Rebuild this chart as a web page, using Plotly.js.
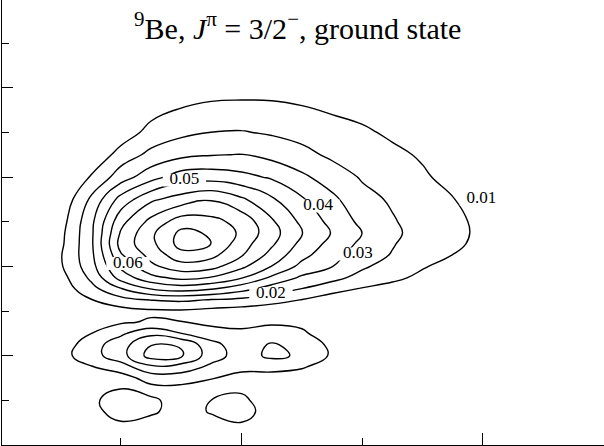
<!DOCTYPE html>
<html>
<head>
<meta charset="utf-8">
<script src="https://cdn.plot.ly/plotly-3.0.1.min.js"></script>
<style>
  html, body { margin: 0; padding: 0; background: #fff; overflow: hidden; }
  #chart { width: 604px; height: 446px; }
</style>
</head>
<body>
<div id="chart"></div>
<script>
// grid of the density map
const xGrid = [0.25, 0.5, 0.75, 1.0, 1.25, 1.5, 1.75, 2.0, 2.25, 2.5, 2.75, 3.0, 3.25, 3.5, 3.75, 4.0, 4.25];
const yGrid = [0.125, 0.25, 0.375, 0.5, 0.625, 0.75, 0.875, 1.0, 1.125, 1.25, 1.375, 1.5, 1.625,
               1.75, 1.875, 2.0, 2.125, 2.25, 2.375, 2.5, 2.75, 3.0, 3.25, 3.5, 3.75, 4.0, 4.25];

// one row per yGrid value, one column per xGrid value
const density = [
  [0, 0, 0, 0.004, 0.002, 0.001, 0.002, 0.005, 0.001, 0, 0, 0, 0, 0, 0, 0, 0],
  [0, 0, 0.003, 0.0095, 0.007, 0.004, 0.0075, 0.0099, 0.003, 0.001, 0, 0, 0, 0, 0, 0, 0],
  [0, 0.002, 0.0075, 0.0133, 0.0115, 0.006, 0.0108, 0.013, 0.0065, 0.002, 0, 0, 0, 0, 0, 0, 0],
  [0, 0.003, 0.0085, 0.0135, 0.0118, 0.006, 0.0101, 0.0115, 0.006, 0.003, 0.001, 0, 0, 0, 0, 0, 0],
  [0, 0.002, 0.007, 0.0103, 0.0065, 0.0065, 0.006, 0.009, 0.005, 0.004, 0.002, 0, 0, 0, 0, 0, 0],
  [0, 0.002, 0.006, 0.0055, 0.0144, 0.015, 0.0105, 0.0067, 0.006, 0.006, 0.004, 0.001, 0, 0, 0, 0, 0],
  [0, 0.004, 0.0093, 0.0155, 0.0278, 0.0256, 0.0178, 0.0128, 0.0134, 0.0108, 0.006, 0.002, 0, 0, 0, 0, 0],
  [0, 0.0062, 0.016, 0.026, 0.0443, 0.0414, 0.0244, 0.0155, 0.0222, 0.0185, 0.0085, 0.003, 0, 0, 0, 0, 0],
  [0, 0.004, 0.0155, 0.0258, 0.0395, 0.039, 0.0227, 0.015, 0.021, 0.0168, 0.0075, 0.003, 0, 0, 0, 0, 0],
  [0, 0.002, 0.0098, 0.0182, 0.0274, 0.0201, 0.015, 0.0118, 0.0142, 0.0114, 0.005, 0.002, 0, 0, 0, 0, 0],
  [0, 0.001, 0.006, 0.0088, 0.0111, 0.0102, 0.0072, 0.0075, 0.0086, 0.008, 0.004, 0.001, 0, 0, 0, 0, 0],
  [0, 0.001, 0.004, 0.0062, 0.0084, 0.0087, 0.007, 0.0054, 0.0031, 0.004, 0.003, 0.002, 0.001, 0, 0, 0, 0],
  [0, 0.003, 0.0095, 0.0166, 0.0203, 0.0218, 0.0194, 0.0177, 0.0143, 0.0097, 0.0042, 0.004, 0.004, 0.002, 0.001, 0, 0],
  [0, 0.0041, 0.0166, 0.0295, 0.0407, 0.0446, 0.0412, 0.0338, 0.0254, 0.0199, 0.0144, 0.0093, 0.0076, 0.005, 0.003, 0, 0],
  [0, 0.0062, 0.0219, 0.0443, 0.0572, 0.063, 0.0595, 0.0509, 0.0382, 0.0283, 0.0231, 0.0166, 0.0116, 0.0084, 0.005, 0.002, 0],
  [0, 0.0088, 0.0256, 0.0522, 0.0679, 0.0757, 0.0737, 0.0622, 0.0498, 0.037, 0.0302, 0.0216, 0.0155, 0.0106, 0.0075, 0.004, 0],
  [0, 0.0093, 0.027, 0.0589, 0.0732, 0.0863, 0.0827, 0.0707, 0.0564, 0.0428, 0.0334, 0.0247, 0.0193, 0.0126, 0.0099, 0.006, 0.001],
  [0, 0.0079, 0.0276, 0.064, 0.0772, 0.094, 0.0899, 0.0743, 0.0614, 0.047, 0.0366, 0.0276, 0.0207, 0.0146, 0.0112, 0.0084, 0.002],
  [0, 0.0072, 0.0275, 0.0612, 0.078, 0.0925, 0.0888, 0.078, 0.0639, 0.0502, 0.0394, 0.0299, 0.0216, 0.0168, 0.0122, 0.0083, 0.002],
  [0, 0.0056, 0.027, 0.057, 0.0731, 0.0852, 0.0832, 0.0765, 0.0615, 0.0477, 0.0369, 0.0275, 0.0209, 0.0157, 0.0118, 0.0082, 0.002],
  [0, 0.002, 0.0217, 0.0439, 0.0582, 0.0645, 0.0692, 0.0617, 0.0515, 0.0411, 0.0322, 0.0232, 0.0187, 0.0135, 0.0103, 0.007, 0.002],
  [0, 0.003, 0.0106, 0.0251, 0.0363, 0.045, 0.0457, 0.0429, 0.0387, 0.0319, 0.0252, 0.019, 0.0153, 0.0112, 0.0072, 0.003, 0],
  [0, 0, 0, 0.0147, 0.0225, 0.0275, 0.0295, 0.0303, 0.027, 0.023, 0.0181, 0.0152, 0.0119, 0.009, 0.004, 0.001, 0],
  [0, 0, 0.001, 0.0034, 0.014, 0.0177, 0.0201, 0.0206, 0.0189, 0.0165, 0.0136, 0.0114, 0.0085, 0.0068, 0.001, 0, 0],
  [0, 0, 0, 0, 0.0062, 0.0108, 0.0128, 0.0132, 0.0126, 0.0111, 0.0091, 0.0075, 0.0051, 0.003, 0, 0, 0],
  [0, 0, 0, 0, 0.001, 0.0039, 0.0056, 0.0061, 0.0064, 0.0057, 0.0046, 0.0037, 0.0015, 0, 0, 0, 0],
  [0, 0, 0, 0, 0, 0.001, 0.002, 0.002, 0.002, 0.001, 0, 0, 0, 0, 0, 0, 0]
];

// contour levels and the labels written on some of them
const levelStart = 0.01;
const levelEnd = 0.09;
const levelStep = 0.01;
const labelText = ['0.01', '0.02', '0.03', '0.04', '0.05', '0.06'];
const labelX = [3.987, 2.243, 2.964, 2.633, 1.526, 1.058];
const labelY = [2.755, 1.697, 2.139, 2.676, 2.968, 2.033];

// tick positions (labels are cut off in the picture)
const xMajorTicks = [2, 4];
const xMinorTicks = [1, 3];
const yMajorTicks = [1, 2, 3, 4];
const yMinorTicks = [0.5, 1.5, 2.5, 3.5, 4.5];

const serif = '"Liberation Serif", "DejaVu Serif", serif';

const contourTrace = {
  type: 'contour',
  x: xGrid,
  y: yGrid,
  z: density,
  contours: {coloring: 'none', start: levelStart, end: levelEnd, size: levelStep, showlabels: false},
  line: {color: '#000', width: 1.4, smoothing: 1.3},
  showscale: false,
  hoverinfo: 'skip'
};

// white bar under each label so the contour line is broken there
const labelGap = {
  type: 'scatter', mode: 'markers',
  x: labelX, y: labelY,
  marker: {symbol: 'line-ew', size: 31, line: {width: 13, color: '#fff'}},
  hoverinfo: 'skip'
};

const labelTrace = {
  type: 'scatter', mode: 'text',
  x: labelX, y: labelY, text: labelText,
  textposition: 'middle center',
  textfont: {family: serif, size: 17, color: '#000'},
  hoverinfo: 'skip'
};

const axisCommon = {
  showgrid: false, zeroline: false, showticklabels: false,
  showline: true, linecolor: '#000', linewidth: 1.3, mirror: false,
  ticks: 'inside', tickcolor: '#000', tickwidth: 1.3, tickmode: 'array'
};

const layout = {
  width: 604, height: 446,
  margin: {l: 2, r: 0, t: 0, b: 1, pad: 0},
  paper_bgcolor: '#fff', plot_bgcolor: '#fff',
  showlegend: false,
  title: {
    text: '<sup>9</sup>Be, <i>J</i><sup>π</sup> = 3/2<sup>−</sup>, ground state',
    font: {family: serif, size: 30, color: '#000'},
    xref: 'container', yref: 'container',
    x: 0.493, xanchor: 'center', y: 0.96, yanchor: 'top'
  },
  xaxis: Object.assign({}, axisCommon, {
    range: [0.014, 5.003], tickvals: xMajorTicks, ticklen: 12,
    minor: {tickmode: 'array', tickvals: xMinorTicks, ticks: 'inside', ticklen: 7, tickcolor: '#000', tickwidth: 1.3}
  }),
  yaxis: Object.assign({}, axisCommon, {
    range: [0, 4.983], tickvals: yMajorTicks, ticklen: 11,
    minor: {tickmode: 'array', tickvals: yMinorTicks, ticks: 'inside', ticklen: 7, tickcolor: '#000', tickwidth: 1.3}
  })
};

Plotly.newPlot('chart', [contourTrace, labelGap, labelTrace], layout, {displayModeBar: false});
</script>
</body>
</html>
